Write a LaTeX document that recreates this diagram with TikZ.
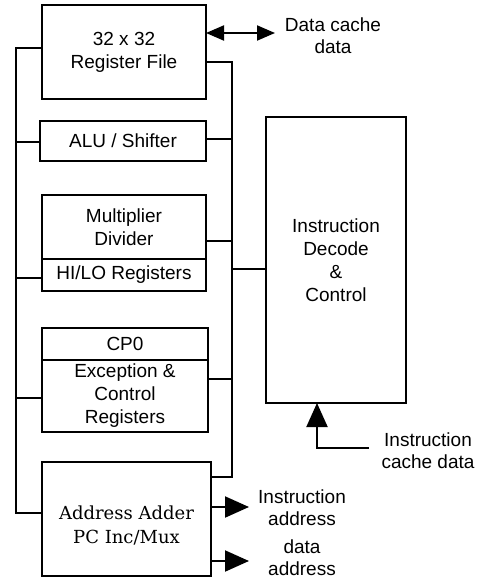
\documentclass[tikz,border=0pt]{standalone}
\usepackage{fontspec}
\setsansfont{Liberation Sans}
\newfontfamily\addrfont{DejaVu Serif}
\usetikzlibrary{arrows.meta}

\begin{document}
\begin{tikzpicture}
  [x=1pt,y=-1pt,
   bus/.style={line width=2pt},
   box/.style={draw,line width=2pt,inner sep=0pt,outer sep=0pt,align=center,
     font=\sffamily\fontsize{19}{23}\selectfont},
   lbl/.style={inner sep=2pt,align=center,font=\sffamily\fontsize{19}{22}\selectfont},
   bigtip/.style={bus,-{Triangle[length=24pt,width=21pt]}}]
  \useasboundingbox (0,0) rectangle (482,579);

  % datapath blocks
  \node[box,minimum width=164pt,minimum height=94pt] (regfile) at (124,52) {32 x 32\\Register File};
  \node[box,minimum width=166pt,minimum height=40pt] (alu) at (123,141) {ALU / Shifter};
  \node[box,minimum width=164pt,minimum height=64pt] (mul) at (124,227) {Multiplier\\Divider};
  \node[box,minimum width=164pt,minimum height=32pt,anchor=north] (hilo) at (mul.south) {HI/LO Registers};
  \node[box,minimum width=166pt,minimum height=32pt] (cp0) at (125,344) {CP0};
  \node[box,minimum width=166pt,minimum height=72pt,anchor=north] (exc) at (cp0.south) {Exception \&\\Control\\Registers};
  \node[box,minimum width=169pt,minimum height=114pt,font=\addrfont\fontsize{18}{24}\selectfont] (addr) at (126.5,519) {\rule{0pt}{26pt}Address Adder\\PC Inc/Mux};
  \node[box,minimum width=140pt,minimum height=286pt] (decode) at (336,260) {Instruction\\Decode\\\&\\Control};

  % buses
  \coordinate (lbend) at (16,513);
  \coordinate (rbend) at (232,477);
  \draw[bus] ([yshift=4pt]regfile.west) -| (lbend) -- ([yshift=6pt]addr.west);
  \draw[bus] ([yshift=-10pt]regfile.east) -| (rbend) -- ([yshift=42pt]addr.east);
  \foreach \n/\s in {alu/-1pt,hilo/-3pt,exc/-2pt}
    \draw[bus] ([yshift=\s]\n.west) -- ([yshift=\s]\n.west -| lbend);
  \foreach \n/\s in {alu/2pt,mul/-14pt,exc/17pt}
    \draw[bus] ([yshift=\s]\n.east) -- ([yshift=\s]\n.east -| rbend);
  \draw[bus] ([yshift=-9pt]decode.west) -- ([yshift=-9pt]decode.west -| rbend);

  % external ports
  \coordinate (dcache) at (275,33);
  \coordinate (iaddr) at (249,507);
  \coordinate (daddr) at (249,561);
  \coordinate (icache) at (369,448);
  \draw[bus,{Triangle[length=18pt,width=15pt]}-{Triangle[length=18pt,width=15pt]}]
    ([yshift=19pt]regfile.east) -- (dcache);
  \draw[bigtip] ([yshift=12pt]addr.east) -- (iaddr);
  \draw[bigtip] ([yshift=-42pt]addr.east) -- (daddr);
  \draw[bigtip] (icache) -| ([xshift=-19pt]decode.south);

  \node[lbl] (dcachetxt) at ([shift={(58,3)}]dcache) {Data cache\\data};
  \node[lbl] (iaddrtxt) at ([shift={(53,1)}]iaddr) {Instruction\\address};
  \node[lbl] (daddrtxt) at ([shift={(53,-3)}]daddr) {data\\address};
  \node[lbl] (icachetxt) at ([shift={(59,3)}]icache) {Instruction\\cache data};
\end{tikzpicture}
\end{document}
